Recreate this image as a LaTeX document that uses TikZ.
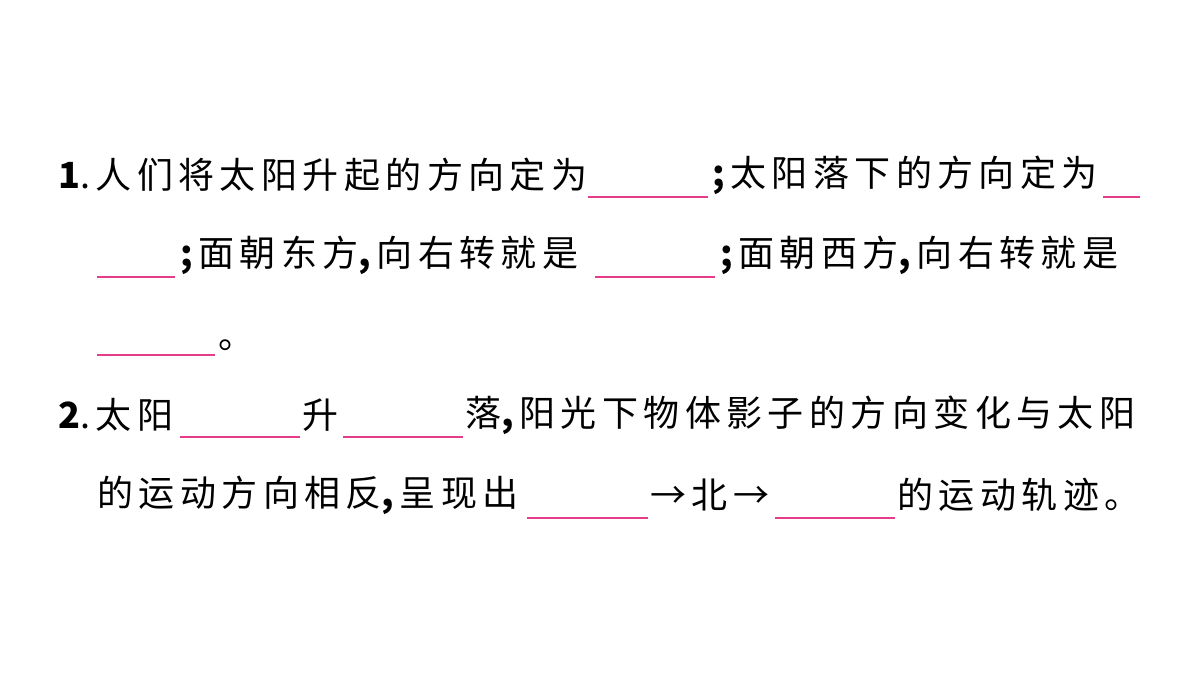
\documentclass[tikz,border=0pt]{standalone}
\usepackage{fontspec}
\setmainfont{Noto Sans CJK SC}[LetterSpace=15]
\begin{document}
\begin{tikzpicture}[x=0.02cm,y=-0.02cm,
  txt/.style={anchor=west,inner sep=0pt,font=\fontsize{20.5}{24}\selectfont},
  blank/.style={draw={rgb,255:red,230;green,60;blue,140},line width=0.7pt}]
\useasboundingbox (0,0) rectangle (1200,675);
% first question
\node[txt] (q1a) at (58,175) {\textbf{1}.人们将太阳升起的方向定为};
\draw[blank] (588,197) -- (708,197);
\node[txt] (q1b) at (712,175) {\textbf{;}太阳落下的方向定为};
\draw[blank] (1103,197) -- (1140,197);
\draw[blank] (97,277) -- (175,277);
\node[txt] (q1c) at (180,255) {\textbf{;}面朝东方\textbf{,}向右转就是};
\draw[blank] (595,277) -- (715,277);
\node[txt] (q1d) at (720,255) {\textbf{;}面朝西方\textbf{,}向右转就是};
\draw[blank] (97,355) -- (215,355);
\node[txt] (q1e) at (218,345) {。};
% second question
\node[txt] (q2a) at (58,415) {\textbf{2}.太阳};
\draw[blank] (180,437) -- (300,437);
\node[txt] (q2b) at (302,415) {升};
\draw[blank] (343,437) -- (463,437);
\node[txt] (q2c) at (465,415) {落\textbf{,}阳光下物体影子的方向变化与太阳};
\node[txt] (q2d) at (97,495) {的运动方向相反\textbf{,}呈现出};
\draw[blank] (527,518) -- (648,518);
\node[txt] (q2e) at (650,495) {→北→};
\draw[blank] (775,518) -- (895,518);
\node[txt] (q2f) at (897,495) {的运动轨迹。};
\end{tikzpicture}
\end{document}
